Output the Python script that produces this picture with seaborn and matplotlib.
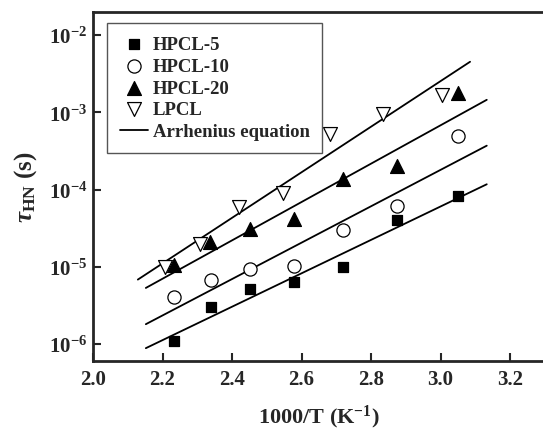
"""
Relaxation time tau_HN vs 1000/T with Arrhenius fits
"""
import numpy as np
import pandas as pd
import matplotlib
matplotlib.use('Agg')
import matplotlib.pyplot as plt
import seaborn as sns

# Data
series_names = ["HPCL-5", "HPCL-10", "HPCL-20", "LPCL"]

x_hpcl5 = [2.234, 2.339, 2.452, 2.578, 2.718, 2.874, 3.049]
tau_hpcl5 = [1.08e-6, 3.0e-6, 5.2e-6, 6.4e-6, 1.0e-5, 4.05e-5, 8.2e-5]

x_hpcl10 = [2.234, 2.339, 2.452, 2.578, 2.718, 2.874, 3.049]
tau_hpcl10 = [4.05e-6, 6.7e-6, 9.4e-6, 1.02e-5, 3.03e-5, 6.1e-5, 5.0e-4]

x_hpcl20 = [2.234, 2.337, 2.452, 2.578, 2.718, 2.874, 3.049]
tau_hpcl20 = [1.06e-5, 2.12e-5, 3.09e-5, 4.17e-5, 1.37e-4, 2.0e-4, 1.78e-3]

x_lpcl = [2.207, 2.308, 2.421, 2.546, 2.682, 2.834, 3.003]
tau_lpcl = [9.9e-6, 1.98e-5, 5.9e-5, 8.95e-5, 5.24e-4, 9.5e-4, 1.67e-3]

# Arrhenius fits: log10(tau) = a + b * (1000/T)
fit_a = [-10.708, -10.813, -10.617, -11.446]
fit_b = [2.163, 2.356, 2.483, 2.95]
fit_xmin = [2.152, 2.152, 2.152, 2.129]
fit_xmax = [3.133, 3.133, 3.133, 3.085]

x_ticks = [2.0, 2.2, 2.4, 2.6, 2.8, 3.0, 3.2]
y_ticks = [1e-6, 1e-5, 1e-4, 1e-3, 1e-2]

xs = [x_hpcl5, x_hpcl10, x_hpcl20, x_lpcl]
taus = [tau_hpcl5, tau_hpcl10, tau_hpcl20, tau_lpcl]
marker_styles = [
    dict(marker='s', facecolor='black', edgecolor='black', s=62),
    dict(marker='o', facecolor='white', edgecolor='black', s=90),
    dict(marker='^', facecolor='black', edgecolor='black', s=100),
    dict(marker='v', facecolor='white', edgecolor='black', s=100),
]

sns.set_style('ticks')
plt.rcParams['font.family'] = ['Liberation Serif', 'DejaVu Serif']
plt.rcParams['font.weight'] = 'bold'
plt.rcParams['mathtext.fontset'] = 'custom'
plt.rcParams['mathtext.rm'] = 'Liberation Serif:bold'
plt.rcParams['mathtext.bf'] = 'Liberation Serif:bold'
plt.rcParams['mathtext.it'] = 'Liberation Serif:bold:italic'

fig = plt.figure(figsize=(5.43, 4.31), dpi=100)
ax = fig.add_axes([0.1713, 0.160, 0.832, 0.810])

for name, x, tau, st in zip(series_names, xs, taus, marker_styles):
    df = pd.DataFrame({'x': x, 'tau': tau})
    sns.scatterplot(data=df, x='x', y='tau', ax=ax, label=name,
                    marker=st['marker'], s=st['s'], color=st['facecolor'],
                    edgecolor=st['edgecolor'], linewidth=0.9, zorder=3)

for i in range(len(fit_a)):
    xf = np.linspace(fit_xmin[i], fit_xmax[i], 50)
    yf = 10 ** (fit_a[i] + fit_b[i] * xf)
    sns.lineplot(x=xf, y=yf, ax=ax, color='black', linewidth=1.3,
                 label='Arrhenius equation' if i == 0 else None, zorder=2)

ax.set_yscale('log')
ax.set_xlim(2.0, 3.3)
ax.set_ylim(10 ** -6.22, 10 ** -1.70)
ax.set_xticks(x_ticks)
ax.set_xticklabels([f'{v:.1f}' for v in x_ticks])
ax.set_yticks(y_ticks)
ax.set_yticklabels([rf'$\mathbf{{10^{{{int(np.log10(v))}}}}}$' for v in y_ticks])
ax.minorticks_off()
ax.tick_params(direction='in', length=6, width=1.5, labelsize=15, pad=6)
ax.tick_params(axis='y', pad=4)

for sp in ax.spines.values():
    sp.set_linewidth(2)
    sp.set_visible(True)

ax.set_xlabel(r'1000/T (K$^{-1}$)', fontsize=16, fontweight='bold', labelpad=10)
ax.set_ylabel(r'$\tau_{\mathrm{HN}}$ (s)', fontsize=18, fontweight='bold', labelpad=7)

leg = ax.legend(loc='upper left', bbox_to_anchor=(0.031, 0.968), borderaxespad=0,
                frameon=True, fancybox=False, edgecolor='#555555', framealpha=1,
                prop={'family': 'Liberation Serif', 'weight': 'bold', 'size': 13.5},
                labelspacing=0.25, handlelength=1.5, borderpad=0.68,
                handletextpad=0.25)
leg.get_frame().set_linewidth(1.0)

fig.savefig('out.png', dpi=100)
